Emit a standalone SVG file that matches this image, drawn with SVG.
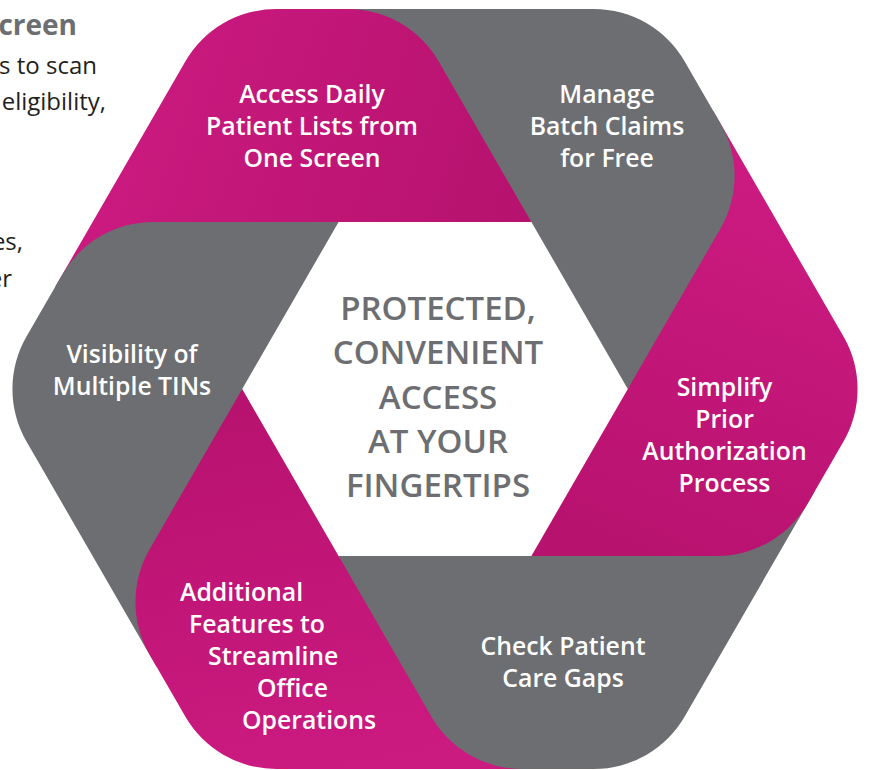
<svg xmlns="http://www.w3.org/2000/svg" xmlns:xlink="http://www.w3.org/1999/xlink" width="869" height="770" viewBox="0 0 869 770">
  <style>
    .gray { fill: #6D6E71; }
    .lbl { fill: #FFFFFF; font-family: "Open Sans", "Noto Sans", sans-serif; font-weight: 600; font-size: 24.8px; text-anchor: middle; }
    .lbl-start { text-anchor: start; }
    .ctr { fill: #6D6E71; font-family: "Open Sans", "Noto Sans", sans-serif; font-weight: 600; font-size: 33px; text-anchor: middle; }
    .side { fill: #231F20; font-family: "Open Sans", "Noto Sans", sans-serif; font-weight: 400; font-size: 24px; text-anchor: end; }
    .side-head { fill: #6D6E71; font-family: "Open Sans", "Noto Sans", sans-serif; font-weight: 700; font-size: 28px; text-anchor: end; }
  </style>
  <defs>
    <linearGradient id="gradAccess" gradientUnits="userSpaceOnUse" x1="120" y1="60" x2="530" y2="200">
      <stop offset="0" stop-color="#CB1A80"/>
      <stop offset="1" stop-color="#B6126E"/>
    </linearGradient>
    <linearGradient id="gradSimplify" gradientUnits="userSpaceOnUse" x1="780" y1="200" x2="640" y2="556">
      <stop offset="0" stop-color="#CB1A80"/>
      <stop offset="1" stop-color="#B8126F"/>
    </linearGradient>
    <linearGradient id="gradAdditional" gradientUnits="userSpaceOnUse" x1="260" y1="400" x2="330" y2="769">
      <stop offset="0" stop-color="#B8126F"/>
      <stop offset="1" stop-color="#CB1A80"/>
    </linearGradient>
    <path id="accessShape" fill="url(#gradAccess)" d="M531.4,222 L438.7,61.5 A105,105 0 0 0 347.8,9 L276.2,9 A105,105 0 0 0 185.3,61.5 L55.1,287 L338.6,222 Z"/>
    <clipPath id="accessTopClip">
      <rect x="300" y="0" width="260" height="222"/>
    </clipPath>
  </defs>

  <g id="side-text">
    <text class="side-head" x="77" y="35">creen</text>
    <text class="side" x="97" y="74">s to scan</text>
    <text class="side" x="106" y="110">eligibility,</text>
    <text class="side" x="23" y="250">es,</text>
    <text class="side" x="12" y="287">er</text>
  </g>

  <g id="node-access-back">
    <use xlink:href="#accessShape" href="#accessShape"/>
  </g>

  <g id="node-visibility">
    <path class="gray" d="M338.6,222 L153.2,222 A105,105 0 0 0 62.3,274.5 L26.5,336.5 A105,105 0 0 0 26.5,441.5 L156.7,667 L242.2,389 Z"/>
    <text class="lbl" x="132" y="363">Visibility of</text>
    <text class="lbl" x="132" y="395">Multiple TINs</text>
  </g>

  <g id="node-additional">
    <path fill="url(#gradAdditional)" d="M242.2,389 L149.5,549.5 A105,105 0 0 0 149.5,654.5 L185.3,716.5 A105,105 0 0 0 276.2,769 L536.6,769 L338.6,556 Z"/>
    <text class="lbl lbl-start" x="180" y="601">Additional</text>
    <text class="lbl lbl-start" x="189" y="633">Features to</text>
    <text class="lbl lbl-start" x="208" y="665">Streamline</text>
    <text class="lbl lbl-start" x="257" y="697">Office</text>
    <text class="lbl lbl-start" x="242" y="729">Operations</text>
  </g>

  <g id="node-check">
    <path class="gray" d="M338.6,556 L431.3,716.5 A105,105 0 0 0 522.2,769 L593.8,769 A105,105 0 0 0 684.7,716.5 L814.9,491 L531.4,556 Z"/>
    <text class="lbl" x="563" y="655">Check Patient</text>
    <text class="lbl" x="563" y="687">Care Gaps</text>
  </g>

  <g id="node-simplify">
    <path fill="url(#gradSimplify)" d="M531.4,556 L716.8,556 A105,105 0 0 0 807.7,503.5 L843.5,441.5 A105,105 0 0 0 843.5,336.5 L713.3,111 L627.8,389 Z"/>
    <text class="lbl" x="724.5" y="396">Simplify</text>
    <text class="lbl" x="724.5" y="428">Prior</text>
    <text class="lbl" x="724.5" y="460">Authorization</text>
    <text class="lbl" x="724.5" y="492">Process</text>
  </g>

  <g id="node-manage">
    <path class="gray" d="M627.8,389 L720.5,228.5 A105,105 0 0 0 720.5,123.5 L684.7,61.5 A105,105 0 0 0 593.8,9 L333.4,9 L531.4,222 Z"/>
    <text class="lbl" x="607" y="103">Manage</text>
    <text class="lbl" x="607" y="135">Batch Claims</text>
    <text class="lbl" x="607" y="167">for Free</text>
  </g>

  <g id="node-access">
    <use xlink:href="#accessShape" href="#accessShape" clip-path="url(#accessTopClip)"/>
    <text class="lbl" x="312" y="103">Access Daily</text>
    <text class="lbl" x="312" y="135">Patient Lists from</text>
    <text class="lbl" x="312" y="167">One Screen</text>
  </g>

  <g id="node-center">
    <text class="ctr" x="438" y="320">PROTECTED,</text>
    <text class="ctr" x="438" y="364">CONVENIENT</text>
    <text class="ctr" x="438" y="409">ACCESS</text>
    <text class="ctr" x="438" y="453">AT YOUR</text>
    <text class="ctr" x="438" y="497">FINGERTIPS</text>
  </g>
</svg>
